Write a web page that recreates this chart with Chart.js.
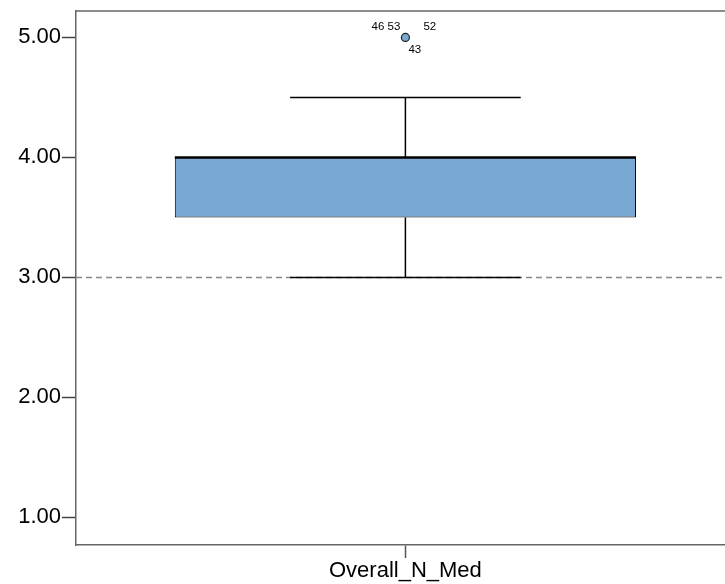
<!DOCTYPE html>
<html>
<head>
<meta charset="utf-8">
<script src="https://cdn.jsdelivr.net/npm/chart.js@4"></script>
<style>
  html, body { margin: 0; padding: 0; background: #fff; overflow: hidden; }
  #wrap { width: 725px; height: 584px; overflow: hidden; }
  #wrap canvas { display: block; }
</style>
</head>
<body>
<div id="wrap"><canvas id="chart" width="740" height="584"></canvas></div>
<script>
// boxplot summary for the one variable
const categories = ['Overall_N_Med'];
const whiskerLow = [3.0];
const q1 = [3.5];
const median = [4.0];
const q3 = [4.0];
const whiskerHigh = [4.5];
const outliers = [5.0];
const outlierIds = ['46 53', '52', '43'];
const refLine = 3.0;
const yTicks = [1, 2, 3, 4, 5];

// draws reference line, whiskers, median, frame and outlier labels
const boxExtras = {
    id: 'boxExtras',
    beforeDatasetsDraw(chart) {
        const { ctx, chartArea, scales } = chart;
        const y = scales.y.getPixelForValue(refLine);
        ctx.save();
        ctx.strokeStyle = '#888';
        ctx.lineWidth = 1.5;
        ctx.setLineDash([6, 4]);
        ctx.beginPath();
        ctx.moveTo(chartArea.left, y);
        ctx.lineTo(chartArea.right, y);
        ctx.stroke();
        ctx.setLineDash([]);

        // whiskers
        const bars = chart.getDatasetMeta(0).data;
        ctx.strokeStyle = '#000';
        ctx.lineWidth = 1.5;
        bars.forEach((bar, i) => {
            const x = scales.x.getPixelForValue(i);
            const cap = bar.width / 4;
            const lo = scales.y.getPixelForValue(whiskerLow[i]);
            const hi = scales.y.getPixelForValue(whiskerHigh[i]);
            const b1 = scales.y.getPixelForValue(q1[i]);
            const b3 = scales.y.getPixelForValue(q3[i]);
            ctx.beginPath();
            ctx.moveTo(x, b1); ctx.lineTo(x, lo);
            ctx.moveTo(x, b3); ctx.lineTo(x, hi);
            ctx.moveTo(x - cap, lo); ctx.lineTo(x + cap, lo);
            ctx.moveTo(x - cap, hi); ctx.lineTo(x + cap, hi);
            ctx.stroke();
        });
        ctx.restore();
    },
    afterDatasetsDraw(chart) {
        const { ctx, chartArea, scales } = chart;
        const bars = chart.getDatasetMeta(0).data;
        ctx.save();
        // median
        ctx.strokeStyle = '#000';
        ctx.lineWidth = 2.5;
        bars.forEach((bar, i) => {
            const m = scales.y.getPixelForValue(median[i]);
            ctx.beginPath();
            ctx.moveTo(bar.x - bar.width / 2, m);
            ctx.lineTo(bar.x + bar.width / 2, m);
            ctx.stroke();
        });

        // outlier case numbers
        const pt = chart.getDatasetMeta(1).data[0];
        ctx.fillStyle = '#000';
        ctx.font = '11.5px "Liberation Sans", Arial, sans-serif';
        ctx.textBaseline = 'middle';
        ctx.textAlign = 'right';
        ctx.fillText(outlierIds[0], pt.x - 5, pt.y - 11);
        ctx.textAlign = 'left';
        ctx.fillText(outlierIds[1], pt.x + 18, pt.y - 11);
        ctx.fillText(outlierIds[2], pt.x + 3, pt.y + 12);

        // frame: top line
        ctx.strokeStyle = '#666';
        ctx.lineWidth = 1.5;
        ctx.beginPath();
        ctx.moveTo(chartArea.left, chartArea.top);
        ctx.lineTo(chartArea.right, chartArea.top);
        ctx.stroke();
        ctx.restore();
    }
};

const ctx = document.getElementById('chart').getContext('2d');
const boxChart = new Chart(ctx, {
    data: {
        labels: categories,
        datasets: [{
            type: 'bar',
            data: categories.map((c, i) => [q1[i], q3[i]]),
            backgroundColor: '#79a8d5',
            borderColor: '#000',
            borderWidth: 1,
            borderSkipped: false,
            barPercentage: 0.7,
            categoryPercentage: 1
        }, {
            type: 'line',
            data: outliers,
            showLine: false,
            pointRadius: 4,
            pointBackgroundColor: '#79a8d5',
            pointBorderColor: '#222',
            pointBorderWidth: 1.2
        }]
    },
    options: {
        responsive: false,
        animation: false,
        layout: { padding: { top: 11, right: 4, bottom: 2, left: 0 } },
        plugins: { legend: { display: false }, tooltip: { enabled: false } },
        scales: {
            x: {
                offset: true,
                afterFit: axis => { axis.height = 37; },
                grid: { display: true, drawOnChartArea: false, offset: false,
                        tickLength: 13, tickColor: '#555', tickWidth: 1.5 },
                border: { color: '#666', width: 1.5 },
                ticks: { color: '#000', padding: 2,
                         font: { family: '"Liberation Sans", Arial, sans-serif', size: 22, lineHeight: 1 } }
            },
            y: {
                min: 0.77,
                max: 5.22,
                afterBuildTicks: axis => { axis.ticks = yTicks.map(v => ({ value: v })); },
                afterFit: axis => { axis.width = 76; axis.paddingTop = 0; axis.paddingBottom = 0; },
                grid: { display: true, drawOnChartArea: false,
                        tickLength: 14, tickColor: '#444', tickWidth: 1.5 },
                border: { color: '#666', width: 1.5 },
                ticks: { color: '#000', padding: 1,
                         callback: v => v.toFixed(2),
                         font: { family: '"Liberation Sans", Arial, sans-serif', size: 22, lineHeight: 1 } }
            }
        }
    },
    plugins: [boxExtras]
});
</script>
</body>
</html>
